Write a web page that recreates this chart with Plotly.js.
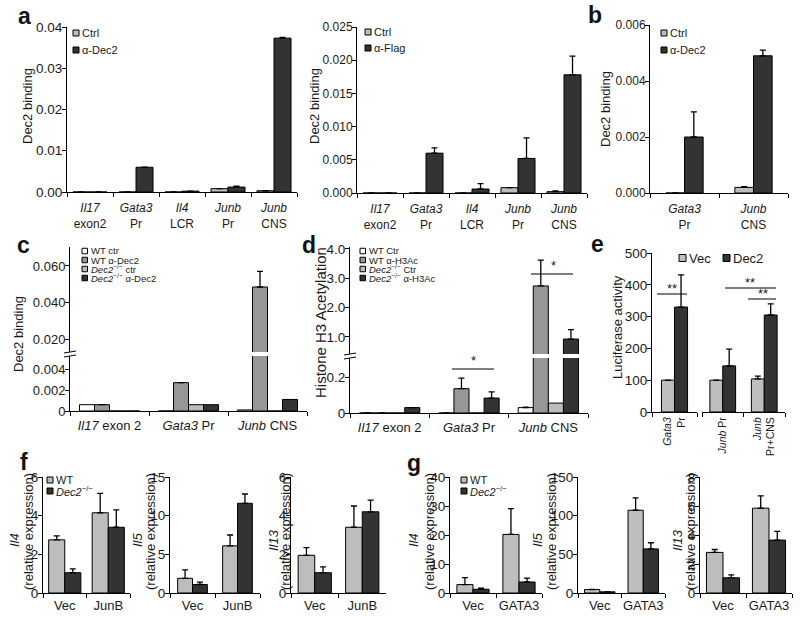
<!DOCTYPE html>
<html><head><meta charset="utf-8">
<script src="https://cdn.plot.ly/plotly-3.0.1.min.js"></script>
<style>html,body{margin:0;padding:0;background:#fff}#chart{width:800px;height:617px}</style>
</head><body><div id="chart"></div>
<script>
// ================= DATA =================
// Panel a (left): Dec2 ChIP, Ctrl vs α-Dec2
const aSites    = ['<i>Il17</i><br>exon2', '<i>Gata3</i><br>Pr', '<i>Il4</i><br>LCR', '<i>Junb</i><br>Pr', '<i>Junb</i><br>CNS'];
const a1Ctrl    = [0, 0, 0, 0.0008, 0.0003];
const a1CtrlErr = [0, 0, 0, 0, 0];
const a1Dec2    = [0, 0.006, 0.0002, 0.0012, 0.0373];
const a1Dec2Err = [0, 0, 0, 0.0002, 0.0002];
// Panel a (right): Ctrl vs α-Flag
const a2Ctrl    = [0, 0, 0, 0.0008, 0.0002];
const a2CtrlErr = [0, 0, 0, 0, 0.0001];
const a2Flag    = [0, 0.006, 0.0006, 0.0052, 0.0178];
const a2FlagErr = [0, 0.0008, 0.0008, 0.0031, 0.0028];
// Panel b
const bSites    = ['<i>Gata3</i><br>Pr', '<i>Junb</i><br>CNS'];
const bCtrl     = [0, 0.0002];
const bCtrlErr  = [0, 0.00003];
const bDec2     = [0.002, 0.0049];
const bDec2Err  = [0.0009, 0.0002];
// Panel c: Dec2 binding, WT vs Dec2-/-
const cdSites    = ['<i>Il17</i> exon 2', '<i>Gata3</i> Pr', '<i>Junb</i> CNS'];
const cWTctr     = [0.0006, 0, 0.0001];
const cWTdec2    = [0.0006, 0.0027, 0.0485];
const cWTdec2Err = [0, 0, 0.0085];
const cKOctr     = [0, 0.0006, 0];
const cKOdec2    = [0, 0.0006, 0.0011];
// Panel d: Histone H3 acetylation
const dWTctr     = [0, 0, 0.03];
const dWTctrErr  = [0, 0, 0.003];
const dWTh3      = [0, 0.135, 2.74];
const dWTh3Err   = [0, 0.059, 0.88];
const dKOctr     = [0, 0, 0.055];
const dKOh3      = [0.03, 0.083, 0.93];
const dKOh3Err   = [0, 0.034, 0.32];
// Panel e: Luciferase activity
const eSites     = ['<i>Gata3</i><br>Pr', '<i>Junb</i> Pr', '<i>Junb</i><br>Pr+CNS'];
const eVec       = [100, 100, 104];
const eVecErr    = [0, 0, 9];
const eDec2      = [330, 145, 305];
const eDec2Err   = [101, 53, 35];
// Panel f: JunB transduction
const fGroups    = ['Vec', 'JunB'];
const fIl4WT     = [2.75, 4.15];  const fIl4WTErr  = [0.2, 1.0];
const fIl4KO     = [1.05, 3.4];   const fIl4KOErr  = [0.2, 0.9];
const fIl5WT     = [1.9, 6.1];    const fIl5WTErr  = [1.1, 1.4];
const fIl5KO     = [1.1, 11.6];   const fIl5KOErr  = [0.3, 1.2];
const fIl13WT    = [1.95, 3.4];   const fIl13WTErr = [0.4, 1.1];
const fIl13KO    = [1.05, 4.2];   const fIl13KOErr = [0.3, 0.6];
// Panel g: GATA3 transduction
const gGroups    = ['Vec', 'GATA3'];
const gIl4WT     = [2.9, 20.2];   const gIl4WTErr  = [2.4, 8.9];
const gIl4KO     = [1.3, 3.8];    const gIl4KOErr  = [0.4, 1.3];
const gIl5WT     = [4.5, 107];    const gIl5WTErr  = [0, 16];
const gIl5KO     = [1.5, 57];     const gIl5KOErr  = [0, 8];
const gIl13WT    = [2.8, 5.85];   const gIl13WTErr = [0.2, 0.85];
const gIl13KO    = [1.05, 3.65];  const gIl13KOErr = [0.2, 0.6];

// ================= STYLE / LAYOUT HELPERS =================
const W = 800, H = 617;
const FONT = 'Liberation Sans, Arial, Helvetica, sans-serif';
const INK = '#1a1a1a';
const LIGHT = '#bdbdbd', DARK = '#333333', MID = '#979797', PALE = '#bcbcbc', WHITE = '#ffffff';
const px = v => v / W;
const py = v => 1 - v / H;
const xd = (a, b) => [px(a), px(b)];
const yd = (top, bot) => [py(bot), py(top)];
const ak = (l, id) => l + 'axis' + (id === 1 ? '' : id);
const ar = (l, id) => l + (id === 1 ? '' : id);

const layout = {
  width: W, height: H, margin: {l: 0, r: 0, t: 0, b: 0},
  paper_bgcolor: '#ffffff', plot_bgcolor: 'rgba(0,0,0,0)',
  showlegend: false, barmode: 'overlay',
  font: {family: FONT, color: INK, size: 13},
  annotations: [], shapes: []
};
const traces = [];

function xAxis(id, xr, anchorY, n, opts) {
  layout[ak('x', id)] = Object.assign({
    domain: xd(xr[0], xr[1]), anchor: ar('y', anchorY), type: 'category',
    range: [-0.5, n - 0.5], showline: true, linecolor: '#000', linewidth: 1,
    ticks: 'outside', tickson: 'boundaries', ticklen: 4, tickcolor: '#000', tickwidth: 1,
    tickangle: 0, showgrid: false, zeroline: false, fixedrange: true,
    tickfont: {size: 13, family: FONT, color: INK}
  }, opts || {});
}
function yAxis(id, yr, anchorX, range, tickvals, ticktext, opts) {
  layout[ak('y', id)] = Object.assign({
    domain: yd(yr[0], yr[1]), anchor: ar('x', anchorX), range: range,
    tickmode: 'array', tickvals: tickvals, ticktext: ticktext,
    showline: true, linecolor: '#000', linewidth: 1,
    ticks: 'outside', ticklen: 4, tickcolor: '#000', tickwidth: 1,
    ticklabelstandoff: -3,
    showgrid: false, zeroline: false, fixedrange: true,
    tickfont: {size: 13.5, family: FONT, color: INK}
  }, opts || {});
}
function addBars(xid, yid, cats, series, w) {
  const n = series.length;
  series.forEach((s, k) => {
    traces.push({
      type: 'bar', x: cats, y: s.v, xaxis: ar('x', xid), yaxis: ar('y', yid),
      width: w, offset: -n * w / 2 + k * w,
      marker: {color: s.c, line: {color: '#000', width: 1}},
      error_y: s.e ? {type: 'data', symmetric: false, array: s.e, arrayminus: s.e.map(() => 0),
                      color: '#000', thickness: 1.3, width: 3} : {visible: false},
      hoverinfo: 'skip'
    });
  });
}
function note(x, y, text, o) {
  layout.annotations.push(Object.assign({
    xref: 'paper', yref: 'paper', x: px(x), y: py(y), text: text, showarrow: false,
    xanchor: 'center', yanchor: 'middle', borderpad: 0,
    font: {size: 13, family: FONT, color: INK}
  }, o || {}));
}
function line(x0, y0, x1, y1, w) {
  layout.shapes.push({type: 'line', xref: 'paper', yref: 'paper',
    x0: px(x0), y0: py(y0), x1: px(x1), y1: py(y1), line: {color: '#000', width: w || 1}});
}
function legendItem(x, y, size, color, label, fs) {
  layout.shapes.push({type: 'rect', xref: 'paper', yref: 'paper',
    x0: px(x), x1: px(x + size), y0: py(y + size / 2), y1: py(y - size / 2),
    fillcolor: color, line: {color: '#000', width: 1}});
  note(x + size + 2, y, label, {xanchor: 'left', font: {size: fs, family: FONT, color: INK}});
}
function letter(x, baseline, t) {
  note(x, baseline + 6, '<b>' + t + '</b>', {xanchor: 'left', yanchor: 'bottom', font: {size: 23, family: FONT, color: '#111'}});
}
const ytitle = (x, y, t, fs) => note(x, y, t, {textangle: -90, font: {size: fs || 13, family: FONT, color: INK}});
const smallTicks = {tickfont: {size: 12, family: FONT, color: INK}};

// ================= PANEL a (left) =================
const aX = {tickfont: {size: 12, family: FONT, color: INK}, ticklabelstandoff: 5};
xAxis(1, [67, 297], 1, aSites.length, aX);
yAxis(1, [27, 192], 1, [0, 0.04], [0, 0.01, 0.02, 0.03, 0.04], ['0.00', '0.01', '0.02', '0.03', '0.04']);
addBars(1, 1, aSites, [{v: a1Ctrl, e: a1CtrlErr, c: LIGHT}, {v: a1Dec2, e: a1Dec2Err, c: DARK}], 0.37);
ytitle(28, 106, 'Dec2 binding');
legendItem(73, 33, 6, LIGHT, 'Ctrl', 11);
legendItem(73, 50, 6, DARK, 'α-Dec2', 11);
letter(17, 24, 'a');

// ================= PANEL a (right) =================
xAxis(2, [357, 587], 2, aSites.length, aX);
yAxis(2, [27, 193], 2, [0, 0.025], [0, 0.005, 0.01, 0.015, 0.02, 0.025], ['0.000', '0.005', '0.010', '0.015', '0.020', '0.025'], smallTicks);
addBars(2, 2, aSites, [{v: a2Ctrl, e: a2CtrlErr, c: LIGHT}, {v: a2Flag, e: a2FlagErr, c: DARK}], 0.37);
ytitle(315, 106, 'Dec2 binding');
legendItem(365, 32, 6, LIGHT, 'Ctrl', 11);
legendItem(365, 48, 6, DARK, 'α-Flag', 11);

// ================= PANEL b =================
xAxis(3, [650, 788], 3, bSites.length, aX);
yAxis(3, [25, 193], 3, [0, 0.006], [0, 0.002, 0.004, 0.006], ['0.000', '0.002', '0.004', '0.006'], smallTicks);
addBars(3, 3, bSites, [{v: bCtrl, e: bCtrlErr, c: LIGHT}, {v: bDec2, e: bDec2Err, c: DARK}], 0.27);
ytitle(605, 109, 'Dec2 binding');
legendItem(661, 33, 6, LIGHT, 'Ctrl', 11);
legendItem(661, 50, 6, DARK, 'α-Dec2', 11);
letter(587, 23, 'b');

// ================= PANEL c (broken axis) =================
const cSeries = [{v: cWTctr, c: WHITE}, {v: cWTdec2, e: cWTdec2Err, c: MID}, {v: cKOctr, c: PALE}, {v: cKOdec2, c: DARK}];
const cTicks = {tickfont: {size: 13, family: FONT, color: INK}};
xAxis(4, [70, 307], 4, cdSites.length, {ticklabelstandoff: 2});
yAxis(4, [356, 411], 4, [0, 0.00524], [0, 0.002, 0.004], ['0', '0.002', '0.004'], cTicks);
yAxis(5, [247, 352], 4, [0.0129, 0.0704], [0.02, 0.04, 0.06], ['0.020', '0.040', '0.060'], cTicks);
addBars(4, 4, cdSites, cSeries, 0.19);
addBars(4, 5, cdSites, cSeries, 0.19);
line(64, 353, 76, 351); line(64, 357, 76, 355);
ytitle(18, 334, 'Dec2 binding');
legendItem(82, 251, 5.5, WHITE, 'WT ctr', 9.5);
legendItem(82, 260, 5.5, MID, 'WT α-Dec2', 9.5);
legendItem(82, 269, 5.5, PALE, '<i>Dec2</i><sup>−/−</sup> ctr', 9.5);
legendItem(82, 278, 5.5, DARK, '<i>Dec2</i><sup>−/−</sup> α-Dec2', 9.5);
letter(16, 253, 'c');

// ================= PANEL d (broken axis) =================
const dSeries = [{v: dWTctr, e: dWTctrErr, c: WHITE}, {v: dWTh3, e: dWTh3Err, c: MID}, {v: dKOctr, c: PALE}, {v: dKOh3, e: dKOh3Err, c: DARK}];
xAxis(6, [350, 588], 6, cdSites.length, {ticklabelstandoff: 2});
yAxis(6, [358, 413], 6, [0, 0.3056], [0, 0.2], ['0', '0.2']);
yAxis(7, [247, 354], 6, [0.42, 4.068], [1, 2, 3, 4], ['1.0', '2.0', '3.0', '4.0']);
addBars(6, 6, cdSites, dSeries, 0.19);
addBars(6, 7, cdSites, dSeries, 0.19);
line(344, 355, 356, 353); line(344, 359, 356, 357);
ytitle(320, 323, 'Histone H3 Acetylation', 15);
legendItem(360, 251, 5.5, WHITE, 'WT Ctr', 9.5);
legendItem(360, 260, 5.5, MID, 'WT α-H3Ac', 9.5);
legendItem(360, 269, 5.5, PALE, '<i>Dec2</i><sup>−/−</sup> Ctr', 9.5);
legendItem(360, 278, 5.5, DARK, '<i>Dec2</i><sup>−/−</sup> α-H3Ac', 9.5);
line(452, 369, 494, 369); note(473, 369, '*', {yanchor: 'bottom'});
line(531, 274, 573, 274); note(553, 274, '*', {yanchor: 'bottom'});
letter(301, 253, 'd');

// ================= PANEL e (split x axis) =================
const eX = {tickangle: -90, tickfont: {size: 10.5, family: FONT, color: INK}};
xAxis(8, [652, 697], 8, 1, eX);
yAxis(8, [253, 412], 8, [0, 500], [0, 100, 200, 300, 400, 500], ['0', '100', '200', '300', '400', '500']);
addBars(8, 8, eSites.slice(0, 1), [{v: eVec.slice(0, 1), e: eVecErr.slice(0, 1), c: LIGHT}, {v: eDec2.slice(0, 1), e: eDec2Err.slice(0, 1), c: DARK}], 0.29);
xAxis(9, [702, 785], 9, 2, eX);
yAxis(9, [253, 412], 9, [0, 500], [], [], {visible: false});
addBars(9, 9, eSites.slice(1), [{v: eVec.slice(1), e: eVecErr.slice(1), c: LIGHT}, {v: eDec2.slice(1), e: eDec2Err.slice(1), c: DARK}], 0.31);
ytitle(617, 327, 'Luciferase activity', 13);
legendItem(679, 258, 7, LIGHT, 'Vec', 13);
legendItem(723, 258, 7, DARK, 'Dec2', 13);
line(657, 294, 687, 294); note(672, 297, '**', {yanchor: 'bottom'});
line(725, 288, 776, 288); note(750, 291, '**', {yanchor: 'bottom'});
line(748, 299, 776, 299); note(763, 302, '**', {yanchor: 'bottom'});
letter(590, 252, 'e');

// ================= PANEL f / g =================
const fAx = [
  {id: 10, x: [43, 130],  r: [0, 6],  tv: [0, 2, 4, 6],     wt: fIl4WT,  wte: fIl4WTErr,  ko: fIl4KO,  koe: fIl4KOErr,  gene: 'Il4',  gx: 14,  px2: 28,  w: 0.37},
  {id: 11, x: [170, 260], r: [0, 15], tv: [0, 5, 10, 15],   wt: fIl5WT,  wte: fIl5WTErr,  ko: fIl5KO,  koe: fIl5KOErr,  gene: 'Il5',  gx: 137, px2: 150, w: 0.33},
  {id: 12, x: [291, 386], r: [0, 6],  tv: [0, 2, 4, 6],     wt: fIl13WT, wte: fIl13WTErr, ko: fIl13KO, koe: fIl13KOErr, gene: 'Il13', gx: 273, px2: 285, w: 0.35}
];
const gAx = [
  {id: 13, x: [450, 542], r: [0, 40],  tv: [0, 10, 20, 30, 40], wt: gIl4WT,  wte: gIl4WTErr,  ko: gIl4KO,  koe: gIl4KOErr,  gene: 'Il4',  gx: 413, px2: 429, w: 0.35},
  {id: 14, x: [578, 665], r: [0, 150], tv: [0, 50, 100, 150],   wt: gIl5WT,  wte: gIl5WTErr,  ko: gIl5KO,  koe: gIl5KOErr,  gene: 'Il5',  gx: 537, px2: 551, w: 0.35},
  {id: 15, x: [700, 792], r: [0, 8],   tv: [0, 2, 4, 6, 8],     wt: gIl13WT, wte: gIl13WTErr, ko: gIl13KO, koe: gIl13KOErr, gene: 'Il13', gx: 677, px2: 690, w: 0.36}
];
function exprPanel(p, groups) {
  xAxis(p.id, p.x, p.id, groups.length);
  yAxis(p.id, [477, 593], p.id, p.r, p.tv, p.tv.map(String));
  addBars(p.id, p.id, groups, [{v: p.wt, e: p.wte, c: LIGHT}, {v: p.ko, e: p.koe, c: DARK}], p.w);
  ytitle(p.gx, 540, '<i>' + p.gene + '</i>');
  ytitle(p.px2, 532, '(relative expression)');
}
fAx.forEach(p => exprPanel(p, fGroups));
gAx.forEach(p => exprPanel(p, gGroups));
legendItem(47, 480, 6, LIGHT, 'WT', 11);
legendItem(47, 491, 6, DARK, '<i>Dec2</i><sup>−/−</sup>', 11);
legendItem(461, 480, 6, LIGHT, 'WT', 11);
legendItem(461, 491, 6, DARK, '<i>Dec2</i><sup>−/−</sup>', 11);
letter(19, 470, 'f');
letter(406, 471, 'g');

Plotly.newPlot('chart', traces, layout, {staticPlot: true, displayModeBar: false});
</script>
</body></html>
